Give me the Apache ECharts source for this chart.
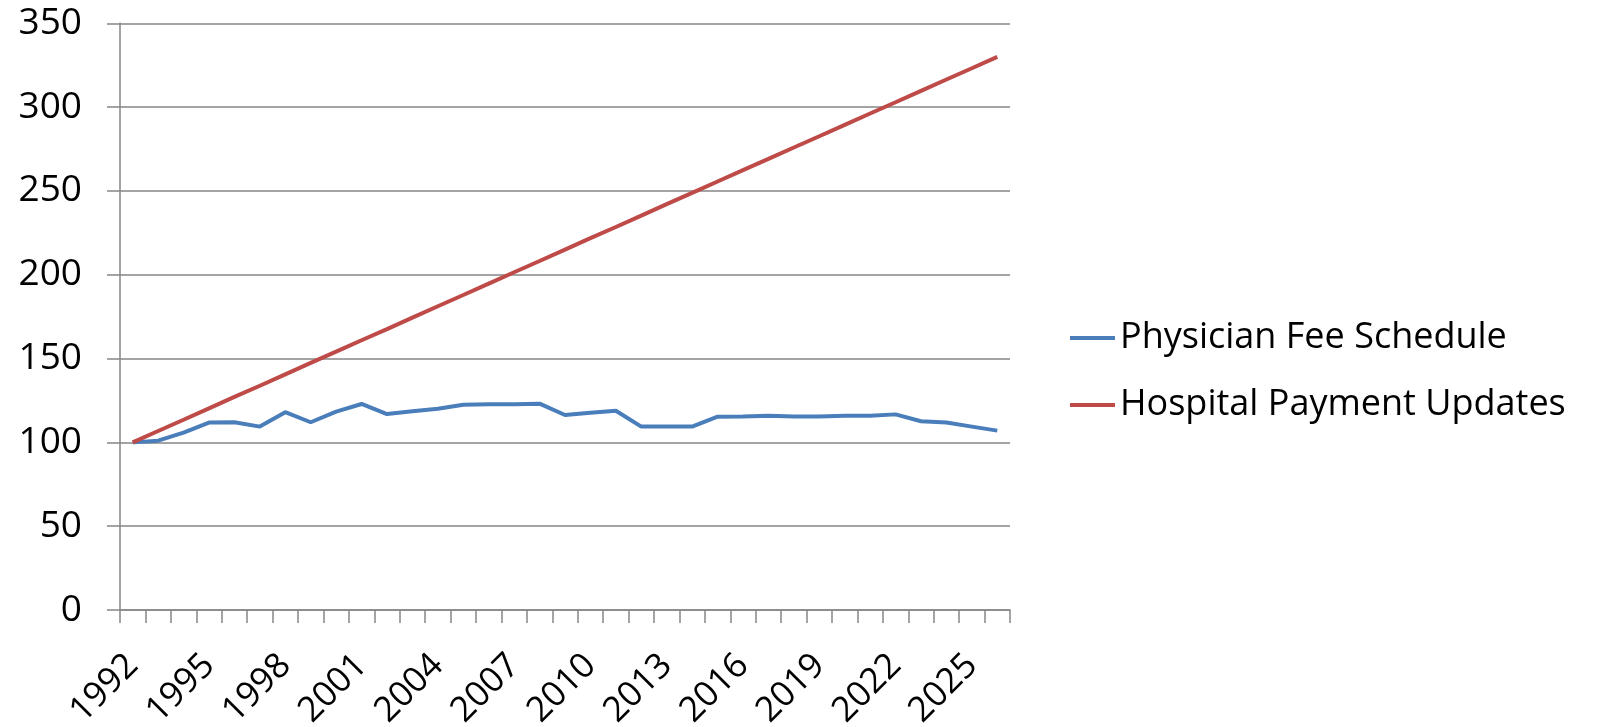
<!DOCTYPE html>
<html>
<head>
<meta charset="utf-8">
<script src="https://cdn.jsdelivr.net/npm/echarts@6/dist/echarts.min.js"></script>
<style>html,body{margin:0;padding:0;background:#fff;}#c{width:1602px;height:727px;}</style>
</head>
<body>
<div id="c"></div>
<script>
const years = ['1992','1993','1994','1995','1996','1997','1998','1999','2000','2001','2002','2003','2004','2005','2006','2007','2008','2009','2010','2011','2012','2013','2014','2015','2016','2017','2018','2019','2020','2021','2022','2023','2024','2025','2026'];
const physician = [100,101,105.8,111.8,112,109.4,118,112,118.3,122.9,116.9,118.5,120.1,122.5,122.7,122.7,123.1,116.3,117.7,118.9,109.4,109.4,109.4,115.3,115.5,115.9,115.5,115.5,115.9,115.9,116.7,112.6,111.8,109.4,107.0];
const hospital = [100,106.8,113.5,120.3,127.1,133.8,140.6,147.4,154.1,160.9,167.6,174.4,181.2,187.9,194.7,201.5,208.2,215.0,221.8,228.5,235.3,242.1,248.8,255.6,262.4,269.1,275.9,282.6,289.4,296.2,302.9,309.7,316.5,323.2,330.0];
const seriesNames = ['Physician Fee Schedule','Hospital Payment Updates'];

const chart = echarts.init(document.getElementById('c'));
const font = '"Open Sans", Lato, sans-serif';
chart.setOption({
  animation: false,
  backgroundColor: '#fff',
  grid: {left: 120, right: 592, top: 23.3, bottom: 117, containLabel: false, outerBoundsMode: 'none'},
  legend: {
    orient: 'vertical', left: 1065, top: 313,
    itemWidth: 45, itemHeight: 4, itemGap: 27,
    icon: 'rect',
    textStyle: {fontFamily: font, fontSize: 36, color: '#000', lineHeight: 40},
    data: seriesNames
  },
  xAxis: {
    type: 'category', data: years, boundaryGap: true,
    axisLine: {lineStyle: {color: '#868686', width: 1.5}},
    axisTick: {show: true, length: 13, interval: 0, lineStyle: {color: '#868686', width: 1.5}},
    axisLabel: {interval: 2, rotate: 45, margin: 50, fontFamily: font, fontSize: 35, color: '#000'}
  },
  yAxis: {
    type: 'value', min: 0, max: 350, interval: 50,
    axisLine: {show: true, lineStyle: {color: '#868686', width: 1.5}},
    axisTick: {show: true, length: 13, lineStyle: {color: '#868686', width: 1.5}},
    splitLine: {lineStyle: {color: '#868686', width: 1.5}},
    axisLabel: {margin: 38, fontFamily: font, fontSize: 37, color: '#000'}
  },
  series: [
    {name: seriesNames[0], type: 'line', data: physician, symbol: 'none', lineStyle: {color: '#4A7EBB', width: 4}, itemStyle: {color: '#4A7EBB'}},
    {name: seriesNames[1], type: 'line', data: hospital, symbol: 'none', lineStyle: {color: '#BE4B48', width: 4}, itemStyle: {color: '#BE4B48'}}
  ]
});
</script>
</body>
</html>
